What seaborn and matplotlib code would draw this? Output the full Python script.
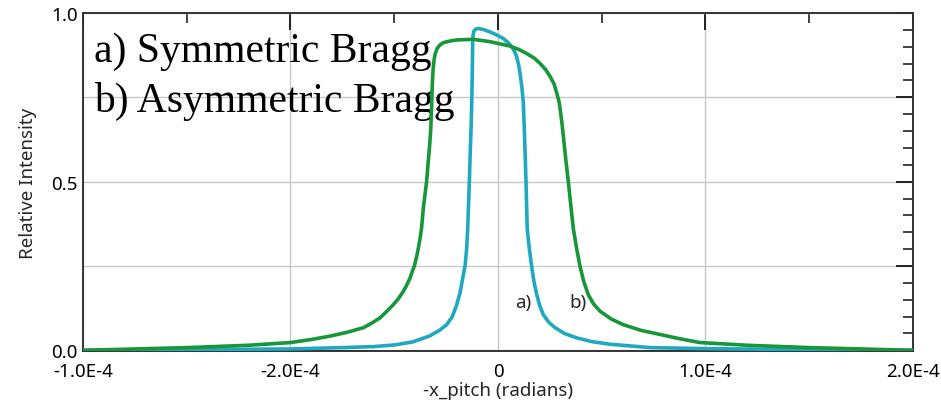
import matplotlib
matplotlib.use("Agg")
import matplotlib.pyplot as plt
from matplotlib.ticker import MultipleLocator, FixedLocator, FixedFormatter
import pandas as pd
import seaborn as sns

# ── data (x in units of 1e-4 rad) ────────────────────────────────────────────

x_sym = [-2.0, -1.5, -1.0, -0.75, -0.6, -0.496, -0.41, -0.328, -0.28, -0.247,
         -0.22, -0.199, -0.183, -0.170, -0.158, -0.151, -0.146, -0.142, -0.138,
         -0.134, -0.130, -0.127, -0.125, -0.123, -0.122, -0.120, -0.116, -0.108,
         -0.095, -0.07, -0.039, -0.01, 0.024, 0.048, 0.066, 0.080, 0.090,
         0.100, 0.109, 0.116, 0.122, 0.127, 0.131, 0.135, 0.138, 0.141, 0.146,
         0.151, 0.162, 0.173, 0.187, 0.200, 0.218, 0.245, 0.275, 0.32, 0.379,
         0.45, 0.540, 0.733, 1.0, 1.5, 2.0]
y_sym = [0.0, 0.002, 0.004, 0.008, 0.011, 0.016, 0.025, 0.043, 0.060, 0.076,
         0.100, 0.135, 0.170, 0.214, 0.253, 0.302, 0.360, 0.430, 0.500,
         0.580, 0.655, 0.720, 0.780, 0.860, 0.910, 0.934, 0.946, 0.952,
         0.954, 0.951, 0.944, 0.936, 0.925, 0.913, 0.900, 0.886, 0.870,
         0.845, 0.810, 0.775, 0.734, 0.655, 0.580, 0.500, 0.430, 0.361, 0.330,
         0.302, 0.250, 0.205, 0.165, 0.135, 0.106, 0.083, 0.067, 0.050, 0.037,
         0.026, 0.018, 0.008, 0.005, 0.002, 0.0]

x_asym = [-2.0, -1.75, -1.5, -1.2, -1.0, -0.9, -0.81, -0.73, -0.649, -0.61,
          -0.569, -0.54, -0.505, -0.48, -0.456, -0.44, -0.424, -0.414, -0.403,
          -0.393, -0.384, -0.376, -0.368, -0.36, -0.352, -0.344, -0.336,
          -0.329, -0.324, -0.320, -0.317, -0.313, -0.308, -0.303, -0.293,
          -0.28, -0.264, -0.23, -0.199, -0.119, -0.039, 0.058, 0.10, 0.138,
          0.175, 0.202, 0.23, 0.251, 0.27, 0.283, 0.295, 0.302, 0.309, 0.315,
          0.327, 0.339, 0.351, 0.363, 0.379, 0.395, 0.413, 0.435, 0.46, 0.492,
          0.545, 0.604, 0.69, 0.781, 0.87, 0.973, 1.2, 1.5, 1.75, 2.0]
y_asym = [0.0, 0.004, 0.008, 0.015, 0.023, 0.032, 0.042, 0.053, 0.067, 0.080,
          0.096, 0.113, 0.135, 0.153, 0.175, 0.193, 0.214, 0.232, 0.250,
          0.275, 0.302, 0.330, 0.364, 0.420, 0.460, 0.500, 0.560,
          0.610, 0.655, 0.720, 0.782, 0.830, 0.861, 0.878, 0.895,
          0.905, 0.912, 0.917, 0.920, 0.922, 0.915, 0.902, 0.892, 0.880,
          0.866, 0.851, 0.832, 0.812, 0.790, 0.763, 0.735, 0.704, 0.670, 0.635,
          0.565, 0.500, 0.430, 0.361, 0.302, 0.250, 0.205, 0.165, 0.138, 0.116,
          0.093, 0.076, 0.059, 0.047, 0.035, 0.023, 0.015, 0.008, 0.004, 0.0]

x_ticks = [-2.0, -1.0, 0.0, 1.0, 2.0]
x_tick_labels = ["-1.0E-4", "-2.0E-4", "0", "1.0E-4", "2.0E-4"]
y_ticks = [0.0, 0.25, 0.5, 0.75, 1.0]
y_tick_labels = ["0.0", "", "0.5", "", "1.0"]

SCALE = 1e-4
CYAN = "#1fa9bf"
GREEN = "#17963a"

sns.set_theme(style="white")
plt.rcParams["font.family"] = ["Noto Sans", "DejaVu Sans"]

df_a = pd.DataFrame({"x": [v * SCALE for v in x_sym], "y": y_sym})
df_b = pd.DataFrame({"x": [v * SCALE for v in x_asym], "y": y_asym})

fig = plt.figure(figsize=(9.41, 4.10), dpi=100)
ax = fig.add_axes([0.0882, 0.1415, 0.882, 0.8244])

sns.lineplot(data=df_a, x="x", y="y", sort=False, color=CYAN, lw=2.6, ax=ax, zorder=3)
sns.lineplot(data=df_b, x="x", y="y", sort=False, color=GREEN, lw=2.6, ax=ax, zorder=4)

ax.set_xlim(-2e-4, 2e-4)
ax.set_ylim(-0.002, 1.0)

ax.xaxis.set_major_locator(FixedLocator([v * SCALE for v in x_ticks]))
ax.xaxis.set_major_formatter(FixedFormatter(x_tick_labels))
ax.xaxis.set_minor_locator(MultipleLocator(0.5e-4))
ax.yaxis.set_major_locator(FixedLocator(y_ticks))
ax.yaxis.set_major_formatter(FixedFormatter(y_tick_labels))
ax.yaxis.set_minor_locator(MultipleLocator(0.05))

ax.tick_params(which="both", direction="in", top=True, right=True,
               color="#222222", labelsize=13.5, labelcolor="black")
ax.tick_params(which="major", length=12, width=1.4, pad=8)
ax.tick_params(which="minor", length=7, width=1.2)
ax.tick_params(axis="y", pad=4)

ax.grid(True, which="major", color="#c8c8c8", lw=1.0)
for s in ax.spines.values():
    s.set_color("#333333")
    s.set_linewidth(1.4)

ax.set_xlabel("-x_pitch (radians)", fontsize=13.5, labelpad=1)
ax.set_ylabel("Relative Intensity", fontsize=13.5, labelpad=10)

serif = ["Liberation Serif", "DejaVu Serif"]
ax.text(0.013, 0.858, "a) Symmetric Bragg", transform=ax.transAxes,
        family=serif, fontsize=30, color="black", va="baseline", zorder=2)
ax.text(0.013, 0.71, "b) Asymmetric Bragg", transform=ax.transAxes,
        family=serif, fontsize=30, color="black", va="baseline", zorder=2)

ax.text(0.12e-4, 0.143, "a)", fontsize=13.5, ha="center", va="center")
ax.text(0.385e-4, 0.143, "b)", fontsize=13.5, ha="center", va="center")

fig.savefig("out.png", dpi=100)
plt.close(fig)
